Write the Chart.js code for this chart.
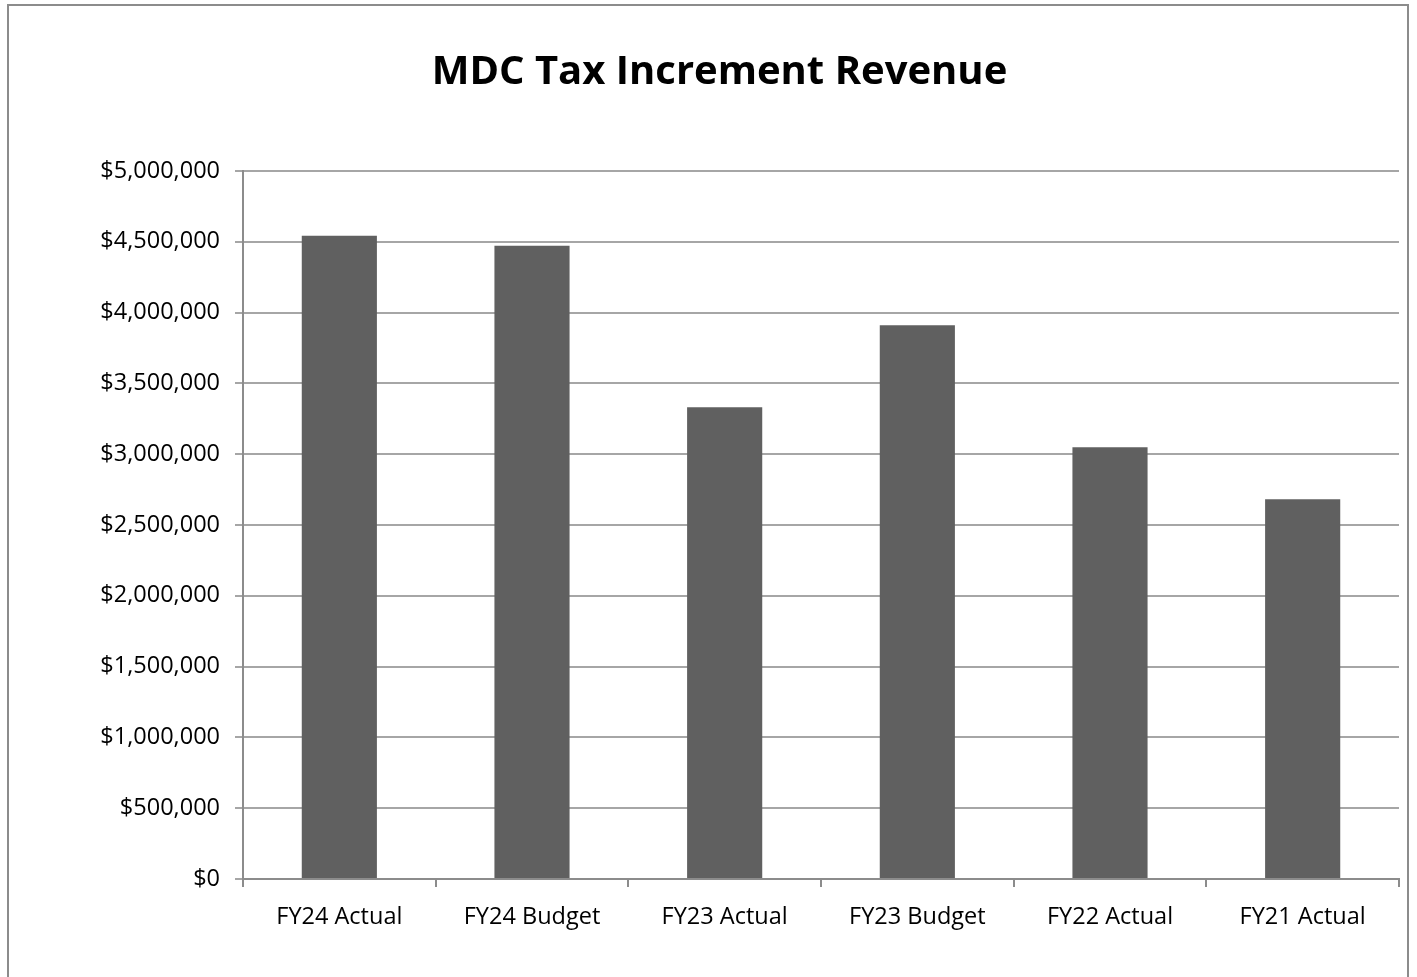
<!DOCTYPE html>
<html>
<head>
<meta charset="utf-8">
<script src="https://cdn.jsdelivr.net/npm/chart.js@4.4.1/dist/chart.umd.min.js"></script>
<style>
  html, body { margin: 0; padding: 0; background: #ffffff; overflow: hidden; }
  #wrap { position: absolute; left: 0; top: 0; width: 1417px; height: 977px; }
</style>
</head>
<body>
<div id="wrap"><canvas id="c" width="1417" height="977"></canvas></div>
<script>
const titleText = 'MDC Tax Increment Revenue';
const categories = ['FY24 Actual', 'FY24 Budget', 'FY23 Actual', 'FY23 Budget', 'FY22 Actual', 'FY21 Actual'];
const revenue = [4543000, 4472000, 3331000, 3910000, 3049000, 2681000];
const yMin = 0;
const yMax = 5000000;
const yStep = 500000;

const FONT = "'Open Sans', 'DejaVu Sans', sans-serif";

const borderPlugin = {
  id: 'outerBorder',
  beforeDraw(chart) {
    const ctx = chart.ctx;
    ctx.save();
    ctx.fillStyle = '#ffffff';
    ctx.fillRect(0, 0, chart.width, chart.height);
    ctx.strokeStyle = '#8c8c8c';
    ctx.lineWidth = 2;
    ctx.strokeRect(8, 5, 1400, 1000);
    ctx.restore();
  }
};

new Chart(document.getElementById('c'), {
  type: 'bar',
  data: {
    labels: categories,
    datasets: [{
      label: 'Revenue',
      data: revenue,
      backgroundColor: '#606060',
      borderWidth: 0,
      barPercentage: 0.39,
      categoryPercentage: 1.0
    }]
  },
  options: {
    responsive: false,
    animation: false,
    devicePixelRatio: 1,
    layout: { padding: { left: 0, right: 18, top: 0, bottom: 0 } },
    plugins: {
      legend: { display: false },
      tooltip: { enabled: false },
      title: {
        display: true,
        text: titleText,
        color: '#000000',
        align: 'center',
        font: { family: FONT, size: 40, weight: 'bold', lineHeight: 1.2 },
        padding: { top: 49, bottom: 74 }
      }
    },
    scales: {
      x: {
        offset: true,
        grid: { display: true, drawOnChartArea: false, drawTicks: true, tickLength: 8, color: '#8c8c8c', lineWidth: 2, offset: true },
        border: { display: true, color: '#8c8c8c', width: 2 },
        ticks: { color: '#000000', font: { family: FONT, size: 23.5 }, padding: 16, maxRotation: 0, autoSkip: false },
        afterFit(s) { s.height = 98; }
      },
      y: {
        min: yMin,
        max: yMax,
        grid: { display: true, drawOnChartArea: true, drawTicks: true, tickLength: 8, color: '#a6a6a6', lineWidth: 2 },
        border: { display: true, color: '#8c8c8c', width: 2 },
        ticks: {
          stepSize: yStep,
          color: '#000000',
          font: { family: FONT, size: 23.5 },
          padding: 15,
          callback: (v) => '$' + Number(v).toLocaleString('en-US')
        },
        afterFit(s) { s.width = 243; }
      }
    }
  },
  plugins: [borderPlugin, {
    id: 'titleShift',
    afterLayout(chart) {
      const t = chart.titleBlock;
      if (t) { t.left += 20; t.right += 20; }
    }
  }]
});
</script>
</body>
</html>
